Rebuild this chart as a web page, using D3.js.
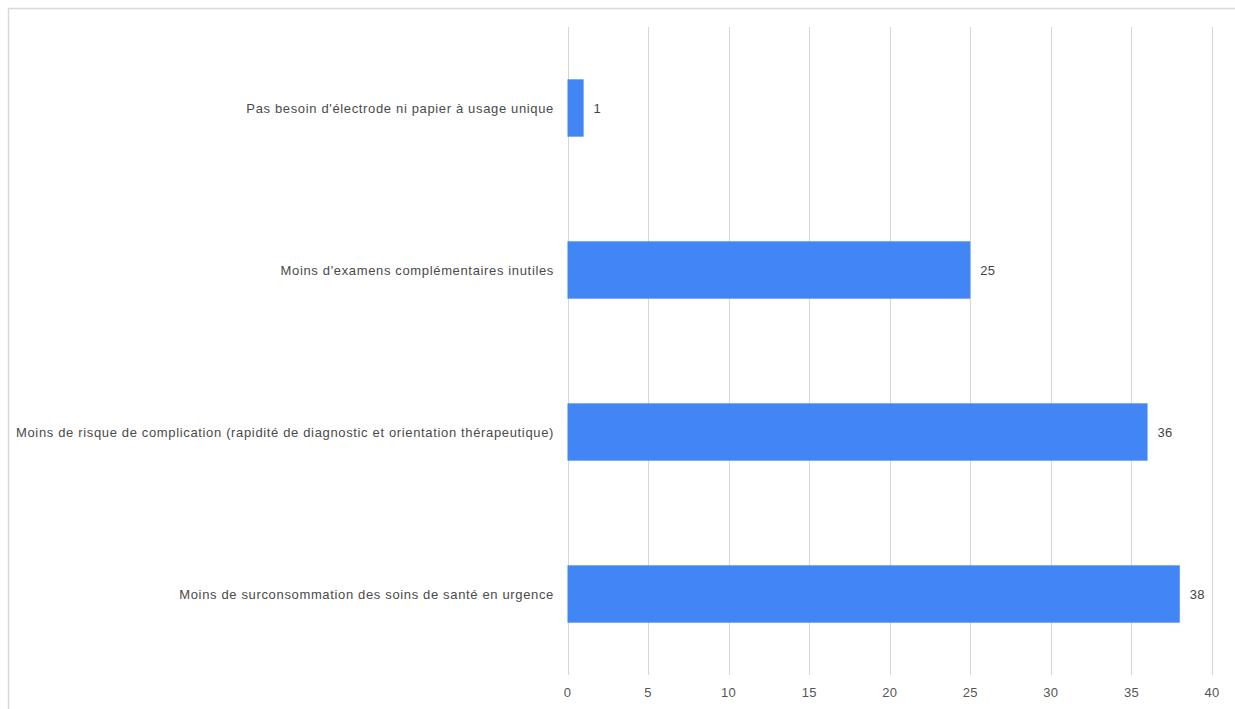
<!DOCTYPE html>
<html>
<head>
<meta charset="utf-8">
<script src="https://cdn.jsdelivr.net/npm/d3@7"></script>
<style>
  html, body { margin: 0; padding: 0; background: #fff; }
  svg { display: block; }
  text { font-family: "Liberation Sans", Arial, sans-serif; }
</style>
</head>
<body>
<svg id="chart" width="1235" height="709"></svg>
<script>
// Réponses : avantages perçus
const categories = [
  "Pas besoin d'électrode ni papier à usage unique",
  "Moins d'examens complémentaires inutiles",
  "Moins de risque de complication (rapidité de diagnostic et orientation thérapeutique)",
  "Moins de surconsommation des soins de santé en urgence"
];
const values = [1, 25, 36, 38];
const tickValues = [0, 5, 10, 15, 20, 25, 30, 35, 40];

const svg = d3.select("#chart");

// outer frame (top and left edges)
svg.append("line").attr("x1", 8).attr("x2", 1235).attr("y1", 8.5).attr("y2", 8.5)
  .attr("stroke", "#d9d9d9").attr("stroke-width", 1.5);
svg.append("line").attr("x1", 8.5).attr("x2", 8.5).attr("y1", 8).attr("y2", 709)
  .attr("stroke", "#d9d9d9").attr("stroke-width", 1.5);

const x = d3.scaleLinear().domain([0, 40]).range([567.5, 1212]);
const y = d3.scaleBand().domain(categories).range([27, 675])
  .paddingInner(0.646).paddingOuter(0.323);

// vertical gridlines
svg.append("g").selectAll("line").data(tickValues).join("line")
  .attr("x1", d => Math.round(x(d)) + 0.5).attr("x2", d => Math.round(x(d)) + 0.5)
  .attr("y1", 27).attr("y2", 675)
  .attr("stroke", "#d6d6d6").attr("stroke-width", 1);

// tick labels
svg.append("g").selectAll("text").data(tickValues).join("text")
  .attr("x", d => x(d)).attr("y", 697)
  .attr("text-anchor", "middle")
  .attr("font-size", 13).attr("letter-spacing", 0.3).attr("fill", "#555")
  .text(d => d);

// bars
svg.append("g").selectAll("rect").data(values).join("rect")
  .attr("x", x(0))
  .attr("y", (d, i) => y(categories[i]))
  .attr("width", d => x(d) - x(0))
  .attr("height", y.bandwidth())
  .attr("fill", "#4285f4");

// value labels
svg.append("g").selectAll("text").data(values).join("text")
  .attr("x", d => x(d) + 10)
  .attr("y", (d, i) => y(categories[i]) + y.bandwidth() / 2)
  .attr("dy", "0.35em")
  .attr("font-size", 13).attr("letter-spacing", 0.3).attr("fill", "#444")
  .text(d => d);

// category labels
svg.append("g").selectAll("text").data(categories).join("text")
  .attr("x", 554)
  .attr("y", d => y(d) + y.bandwidth() / 2)
  .attr("dy", "0.35em")
  .attr("text-anchor", "end")
  .attr("font-size", 13).attr("letter-spacing", 0.65).attr("fill", "#4a4a4a")
  .text(d => d);
</script>
</body>
</html>
